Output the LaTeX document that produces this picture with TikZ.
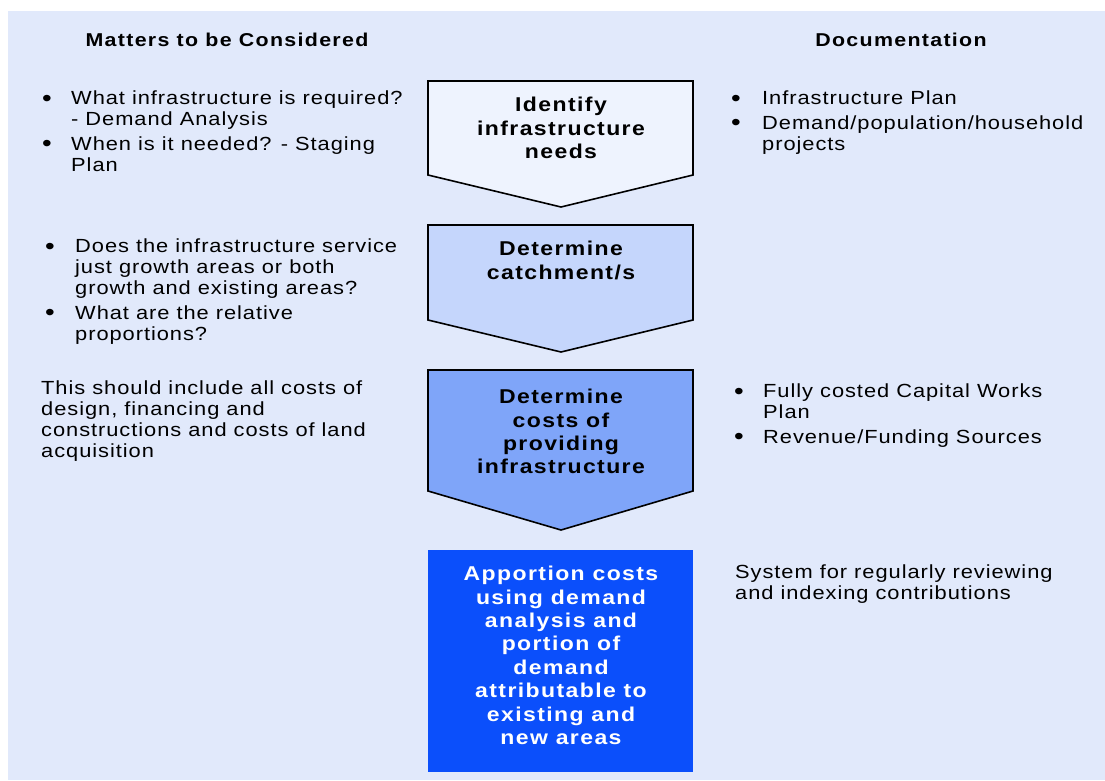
\documentclass[tikz,border=0pt]{standalone}
\usepackage{fontspec}
\setmainfont{Liberation Sans}
\newfontfamily\notesfamily{Liberation Sans}[FakeStretch=1.15, LetterSpace=5]
\newfontfamily\boldfamily{Liberation Sans Bold}[FakeStretch=1.15, LetterSpace=7]
\usetikzlibrary{calc}
\definecolor{panel}{HTML}{E1E9FB}
\definecolor{stepone}{HTML}{EEF3FE}
\definecolor{steptwo}{HTML}{C5D6FC}
\definecolor{stepthree}{HTML}{7FA5F9}
\definecolor{stepfour}{HTML}{0B4FFB}
\newcommand{\notefont}{\notesfamily\fontsize{19}{21}\selectfont}
\newcommand{\stepfont}{\boldfamily\fontsize{20}{23.4}\selectfont}
\newcommand{\blt}{\raisebox{-1.5pt}{\fontsize{24}{21}\selectfont\textbullet}}
\tikzstyle{chevron} = [draw, line width=1.6pt, line join=miter]
\tikzstyle{steptext} = [anchor=north, align=center, inner sep=0pt, font=\stepfont]
\tikzstyle{heading} = [anchor=north, inner sep=0pt, font=\boldfamily\fontsize{18.6}{21}\selectfont]
\tikzstyle{notes} = [anchor=base west, inner sep=0pt, font=\notefont]

\begin{document}
\begin{tikzpicture}[x=1pt, y=-1pt]
      \useasboundingbox (0,0) rectangle (1105,780);
      \fill[panel] (8,11) rectangle (1105,780);

      % the four steps
      \filldraw[chevron, fill=stepone] (428,81) -- (693,81) -- (693,175) -- (561,207) -- (428,175) -- cycle;
      \filldraw[chevron, fill=steptwo] (428,225) -- (693,225) -- (693,320) -- (561,352) -- (428,320) -- cycle;
      \filldraw[chevron, fill=stepthree] (428,370) -- (693,370) -- (693,491) -- (561,530) -- (428,491) -- cycle;
      \fill[stepfour] (428,550) rectangle (693,772);

      \node (identify) at (561,97) [steptext] {Identify\\infrastructure\\needs};
      \node (catchment) at (561,241) [steptext] {Determine\\catchment/s};
      \node (costs) at (561,389) [steptext] {Determine\\costs of\\providing\\infrastructure};
      \node (apportion) at (561,566) [steptext, text=white] {Apportion costs\\using demand\\analysis and\\portion of\\demand\\attributable to\\existing and\\new areas};

      % column headings
      \node (matters) at (227,33) [heading] {Matters to be Considered};
      \node (documentation) at (901,33) [heading] {Documentation};

      % left column
      \node (needsnotes) at (42,104.5) [notes] {\begin{tabular}[t]{@{}p{29pt}@{}l@{}}
            \blt & What infrastructure is required?\\
                 & - Demand Analysis\\[3.5pt]
            \blt & When is it needed? - Staging\\
                 & Plan
            \end{tabular}};
      \node (catchnotes) at (45,252.5) [notes] {\begin{tabular}[t]{@{}p{30pt}@{}l@{}}
            \blt & Does the infrastructure service\\
                 & just growth areas or both\\
                 & growth and existing areas?\\[3.5pt]
            \blt & What are the relative\\
                 & proportions?
            \end{tabular}};
      \node (costnotes) at (41,394.5) [notes] {\begin{tabular}[t]{@{}l@{}}
            This should include all costs of\\
            design, financing and\\
            constructions and costs of land\\
            acquisition
            \end{tabular}};

      % right column
      \node (plandocs) at (731,104.5) [notes] {\begin{tabular}[t]{@{}p{31pt}@{}l@{}}
            \blt & Infrastructure Plan\\[3.5pt]
            \blt & Demand/population/household\\
                 & projects
            \end{tabular}};
      \node (worksdocs) at (734,397.5) [notes] {\begin{tabular}[t]{@{}p{29pt}@{}l@{}}
            \blt & Fully costed Capital Works\\
                 & Plan\\[3.5pt]
            \blt & Revenue/Funding Sources
            \end{tabular}};
      \node (reviewdocs) at (735,578.5) [notes] {\begin{tabular}[t]{@{}l@{}}
            System for regularly reviewing\\
            and indexing contributions
            \end{tabular}};
\end{tikzpicture}
\end{document}
